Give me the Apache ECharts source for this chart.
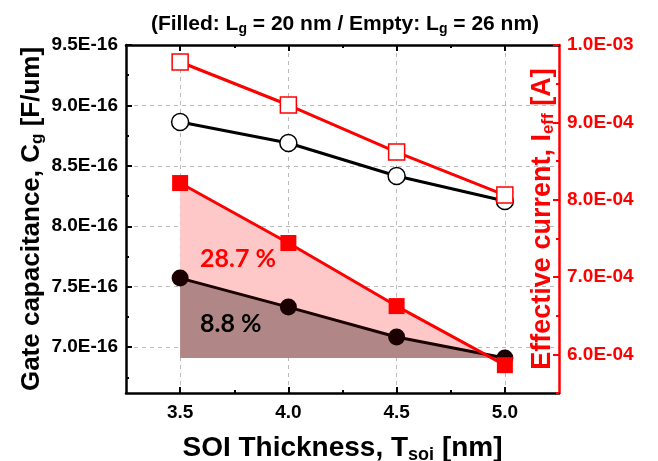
<!DOCTYPE html>
<html>
<head>
<meta charset="utf-8">
<script src="https://cdn.jsdelivr.net/npm/echarts@6/dist/echarts.min.js"></script>
<style>html,body{margin:0;padding:0;background:#fff;}#c{width:658px;height:461px;}</style>
</head>
<body>
<div id="c"></div>
<script>
// ---- data ----
const soiThickness = [3.5, 4.0, 4.5, 5.0];
const cgFilled = [7.571e-16, 7.331e-16, 7.083e-16, 6.909e-16];   // Lg = 20 nm
const cgEmpty  = [8.863e-16, 8.689e-16, 8.416e-16, 8.209e-16];   // Lg = 26 nm
const ieffFilled = [8.215e-4, 7.440e-4, 6.624e-4, 5.860e-4];     // Lg = 20 nm
const ieffEmpty  = [9.780e-4, 9.224e-4, 8.616e-4, 8.060e-4];     // Lg = 26 nm
const xTicks = [3.5, 4.0, 4.5, 5.0];
const xMinorTicks = [3.75, 4.25, 4.75];
const leftTicks = [7.0e-16, 7.5e-16, 8.0e-16, 8.5e-16, 9.0e-16, 9.5e-16];
const leftMinorTicks = [6.75e-16, 7.25e-16, 7.75e-16, 8.25e-16, 8.75e-16, 9.25e-16];
const rightTicks = [6.0e-4, 7.0e-4, 8.0e-4, 9.0e-4, 1.0e-3];
const rightMinorTicks = [5.5e-4, 6.5e-4, 7.5e-4, 8.5e-4, 9.5e-4];
const cgPct = '8.8 %';
const ieffPct = '28.7 %';

const xMin = 3.25, xMax = 5.25;
const lMin = 6.62e-16, lMax = 9.5e-16;
const rMin = 5.5e-4, rMax = 1.0e-3;

function sci(v) {
  const s = v.toExponential(1);
  const parts = s.split('e');
  const n = parseInt(parts[1], 10);
  return parts[0] + 'E' + (n < 0 ? '-' : '+') + String(Math.abs(n)).padStart(2, '0');
}
const pair = arr => soiThickness.map((x, i) => [x, arr[i]]);

const baseLeft = cgFilled[cgFilled.length - 1];
const baseRight = rMin + (baseLeft - lMin) / (lMax - lMin) * (rMax - rMin);

const FONT = 'Liberation Sans, Arial, sans-serif';
const RED = '#ff0000';

const chart = echarts.init(document.getElementById('c'), null, {renderer: 'canvas'});

function xAxisDef(pos, ticks, len, withLabel, withLine, withSplit) {
  return {
    type: 'value', position: pos, min: xMin, max: xMax,
    axisLine: {show: withLine, lineStyle: {color: '#000', width: 2.5}},
    axisTick: {show: true, inside: true, length: len, customValues: ticks, lineStyle: {color: '#000', width: 2}},
    axisLabel: withLabel ? {show: true, customValues: ticks, margin: 10, color: '#000', fontSize: 19, fontWeight: 'bold', fontFamily: FONT, formatter: v => v.toFixed(1)} : {show: false},
    splitLine: withSplit ? {show: true, lineStyle: {color: '#bbb', type: [4, 4], width: 1}} : {show: false}
  };
}
function yAxisDef(pos, min, max, ticks, len, color, withLabel, withLine, withSplit, extra) {
  return Object.assign({
    type: 'value', position: pos, min: min, max: max,
    axisLine: {show: withLine, lineStyle: {color: color, width: 2.5}},
    axisTick: {show: true, inside: true, length: len, customValues: ticks, lineStyle: {color: color, width: 2}},
    axisLabel: withLabel ? {show: true, customValues: ticks, margin: 8, color: color, fontSize: 19, fontWeight: 'bold', fontFamily: FONT, formatter: sci} : {show: false},
    splitLine: withSplit ? {show: true, lineStyle: {color: '#bbb', type: [4, 4], width: 1}} : {show: false}
  }, extra || {});
}

const option = {
  animation: false,
  backgroundColor: '#fff',
  title: {
    text: '(Filled: L{sub|g} = 20 nm / Empty: L{sub|g} = 26 nm)',
    left: 340, top: 7, textAlign: 'center',
    textStyle: {
      fontSize: 21, fontWeight: 'bold', fontFamily: FONT, color: '#000',
      rich: {sub: {fontSize: 14, fontWeight: 'bold', fontFamily: FONT, padding: [10, 0, 0, 0]}}
    }
  },
  grid: {left: 126, right: 99, top: 45, bottom: 68, containLabel: false, outerBoundsMode: 'none'},
  xAxis: [
    Object.assign(xAxisDef('bottom', xTicks, 6, true, true, true), {
      name: 'SOI Thickness, T{sub|soi} [nm]', nameLocation: 'middle', nameGap: 39, nameMoveOverlap: false,
      nameTextStyle: {fontSize: 28, fontWeight: 'bold', fontFamily: FONT, color: '#000',
        rich: {sub: {fontSize: 18, fontWeight: 'bold', fontFamily: FONT, padding: [14, 0, 0, 0]}}}
    }),
    xAxisDef('bottom', xMinorTicks, 3, false, false, false),
    xAxisDef('top', xTicks, 6, false, true, false),
    xAxisDef('top', xMinorTicks, 3, false, false, false)
  ],
  yAxis: [
    yAxisDef('left', lMin, lMax, leftTicks, 6, '#000', true, true, true, {
      name: 'Gate capacitance, C{sub|g} [F/um]', nameLocation: 'middle', nameGap: 80, nameRotate: 90, nameMoveOverlap: false,
      nameTextStyle: {fontSize: 26, fontWeight: 'bold', fontFamily: FONT, color: '#000',
        rich: {sub: {fontSize: 17, fontWeight: 'bold', fontFamily: FONT, padding: [12, 0, 0, 0]}}}
    }),
    yAxisDef('left', lMin, lMax, leftMinorTicks, 3, '#000', false, false, false),
    yAxisDef('right', rMin, rMax, rightTicks, 6, RED, true, true, false, {
      name: 'Effective current, I{sub|eff} [A]', nameLocation: 'middle', nameGap: -31, nameRotate: 90, nameMoveOverlap: false,
      nameTextStyle: {fontSize: 27, fontWeight: 'bold', fontFamily: FONT, color: RED,
        rich: {sub: {fontSize: 17, fontWeight: 'bold', fontFamily: FONT, color: RED, padding: [12, 0, 0, 0]}}}
    }),
    yAxisDef('right', rMin, rMax, rightMinorTicks, 3, RED, false, false, false)
  ],
  series: [
    { // pink area under Ieff (Lg=20)
      type: 'line', xAxisIndex: 0, yAxisIndex: 2, data: pair(ieffFilled), symbol: 'none', z: 1,
      lineStyle: {width: 0}, areaStyle: {color: '#ffc8c8', opacity: 1, origin: baseRight}, silent: true
    },
    { // brown area under Cg (Lg=20)
      type: 'line', xAxisIndex: 0, yAxisIndex: 0, data: pair(cgFilled), symbol: 'none', z: 2,
      lineStyle: {width: 0}, areaStyle: {color: '#b08686', opacity: 1, origin: baseLeft}, silent: true
    },
    {
      type: 'line', xAxisIndex: 0, yAxisIndex: 0, data: pair(cgEmpty), z: 5,
      symbol: 'circle', symbolSize: 17,
      lineStyle: {color: '#000', width: 3}, itemStyle: {color: '#fff', borderColor: '#000', borderWidth: 1.5}
    },
    {
      type: 'line', xAxisIndex: 0, yAxisIndex: 2, data: pair(ieffEmpty), z: 5,
      symbol: 'rect', symbolSize: 16,
      lineStyle: {color: RED, width: 3}, itemStyle: {color: '#fff', borderColor: RED, borderWidth: 1.5}
    },
    {
      type: 'line', xAxisIndex: 0, yAxisIndex: 0, data: pair(cgFilled), z: 5,
      symbol: 'circle', symbolSize: 17,
      lineStyle: {color: '#1a0000', width: 3}, itemStyle: {color: '#1a0000'}
    },
    {
      type: 'line', xAxisIndex: 0, yAxisIndex: 2, data: pair(ieffFilled), z: 6,
      symbol: 'rect', symbolSize: 16,
      lineStyle: {color: RED, width: 3}, itemStyle: {color: RED}
    }
  ],
  graphic: [
    {type: 'text', left: 200, top: 246, z: 10, style: {text: ieffPct, fill: RED, font: 'bold 25px Lato, "Open Sans", sans-serif'}},
    {type: 'text', left: 200, top: 311, z: 10, style: {text: cgPct, fill: '#000', font: 'bold 25px Lato, "Open Sans", sans-serif'}}
  ]
};
chart.setOption(option);
</script>
</body>
</html>
